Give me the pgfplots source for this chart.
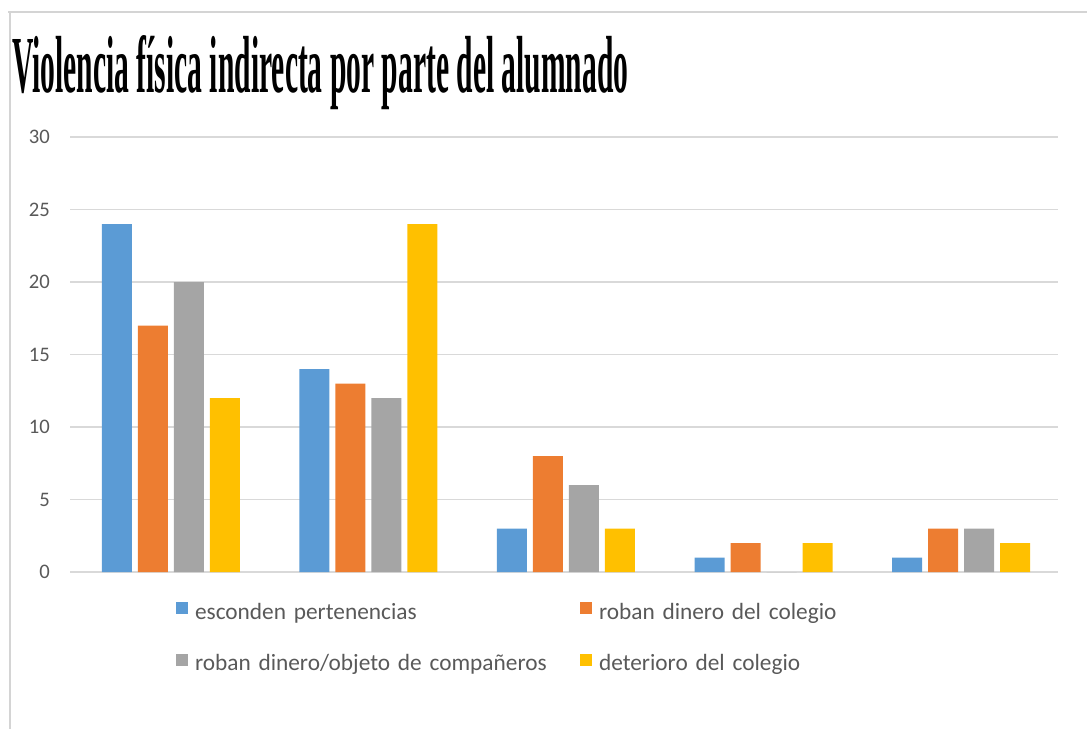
\documentclass[border=0pt]{standalone}
\usepackage{fontspec}
\setmainfont{Carlito}
\newfontfamily\titlefont{Liberation Serif}
\usepackage{graphicx}
\usepackage{pgfplots}
\pgfplotsset{compat=1.18}
\definecolor{cBlue}{HTML}{5B9BD5}
\definecolor{cOrange}{HTML}{ED7D31}
\definecolor{cGray}{HTML}{A5A5A5}
\definecolor{cYellow}{HTML}{FFC000}
\definecolor{tickGray}{HTML}{595959}
\definecolor{gridGray}{HTML}{D9D9D9}
\definecolor{frameGray}{HTML}{D4D4D4}

\begin{document}
\begin{tikzpicture}
% page = 1087 x 729 px, 1 px = 0.75pt, origin top left
\path[use as bounding box] (0,0) rectangle (815.25pt,-546.75pt);
\draw[line width=1.5pt, frameGray] (6pt,-9pt) -- (815.25pt,-9pt);
\draw[line width=1.5pt, frameGray] (7.5pt,-9pt) -- (7.5pt,-546.75pt);
\node[anchor=base west, inner sep=0pt] at (9pt,-69pt)
  {\resizebox{462pt}{42.75pt}{\titlefont\bfseries Violencia física indirecta por parte del alumnado}};

\begin{axis}[
  at={(52.5pt,-429pt)}, anchor=south west,
  scale only axis, width=741pt, height=326.25pt,
  ybar=4.5pt, bar width=22.5pt,
  xmin=-0.51, xmax=4.49, ymin=0, ymax=30,
  xtick=\empty, ytick={0,5,...,30},
  axis line style={draw=none},
  major tick length=0pt,
  ymajorgrids, grid style={draw=gridGray, line width=0.9pt},
  yticklabel style={font=\fontsize{15.5}{18}\selectfont, text=tickGray,
    anchor=east, inner sep=0pt, xshift=-15pt},
  /pgf/number format/assume math mode=true,
  legend columns=2,
  legend cell align=left,
  legend style={draw=none, fill=none, inner sep=0pt, outer sep=0pt,
    at={(0.1073,-0.07)}, anchor=north west,
    font=\fontsize{17.5}{20}\selectfont, text=tickGray,
    row sep=23pt,
    nodes={inner sep=0pt, text height=12pt, text depth=3pt},
    /tikz/every odd column/.append style={column sep=5.25pt},
    /tikz/every even column/.append style={text width=288.75pt, align=left}},
  legend image code/.code={\fill[#1] (0pt,-1pt) rectangle (9pt,8pt);},
]
\addplot[fill=cBlue, draw=none] coordinates {(0,24) (1,14) (2,3) (3,1) (4,1)};
\addlegendentry{esconden pertenencias}
\addplot[fill=cOrange, draw=none] coordinates {(0,17) (1,13) (2,8) (3,2) (4,3)};
\addlegendentry{roban dinero del colegio}
\addplot[fill=cGray, draw=none] coordinates {(0,20) (1,12) (2,6) (3,0) (4,3)};
\addlegendentry{roban dinero/objeto de compañeros}
\addplot[fill=cYellow, draw=none] coordinates {(0,12) (1,24) (2,3) (3,2) (4,2)};
\addlegendentry{deterioro del colegio}
\end{axis}
\end{tikzpicture}
\end{document}
